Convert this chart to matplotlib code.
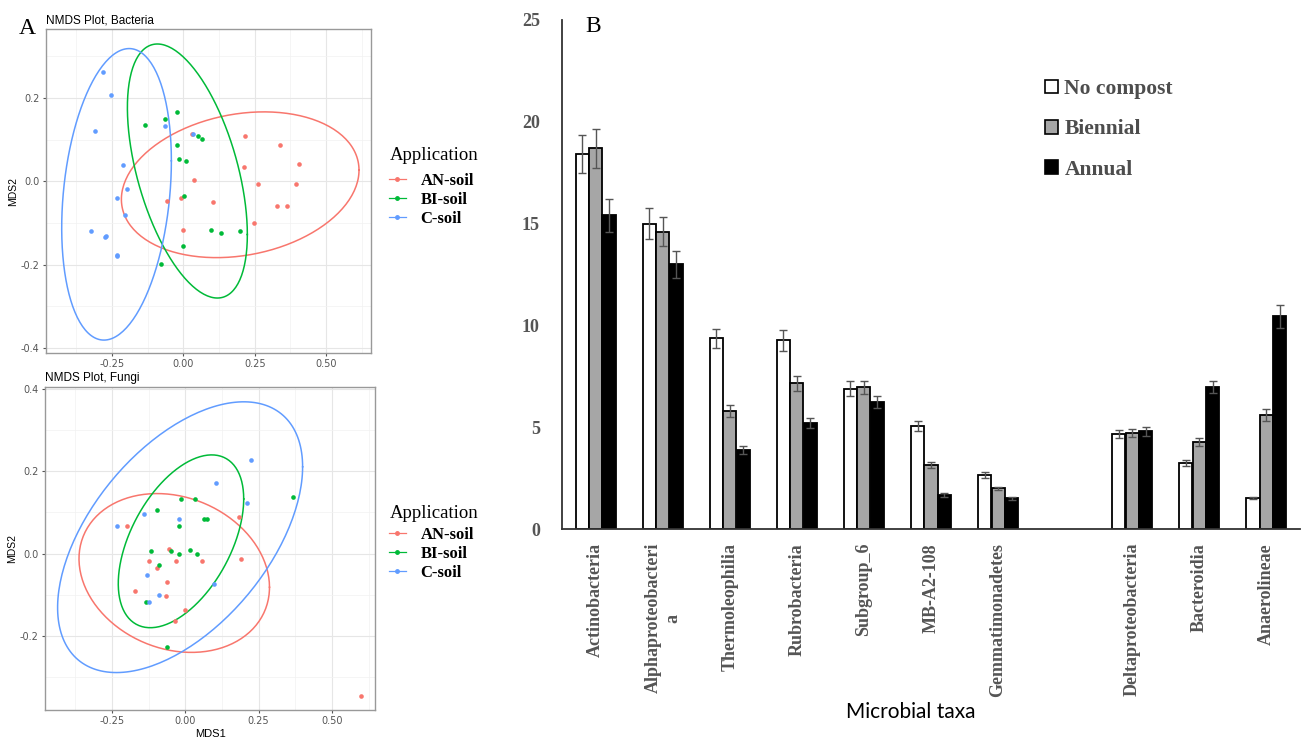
import numpy as np
import matplotlib
matplotlib.use("Agg")
import matplotlib.pyplot as plt
from matplotlib.lines import Line2D
from matplotlib.patches import Patch

# ---------------- panel A data (NMDS scores) ----------------
GROUPS = ["AN-soil", "BI-soil", "C-soil"]
GROUP_COLORS = ["#F8766D", "#00BA38", "#619CFF"]

bac_an_x = [0.031, 0.217, 0.339, 0.406, 0.213, 0.038, 0.262, 0.395, -0.056, -0.010, 0.105, 0.329, 0.364, 0.248, 0.000]
bac_an_y = [0.113, 0.109, 0.087, 0.043, 0.034, 0.003, -0.005, -0.007, -0.048, -0.041, -0.050, -0.060, -0.058, -0.101, -0.116]
bac_bi_x = [-0.133, -0.066, -0.024, -0.021, 0.052, 0.066, -0.014, 0.010, 0.003, 0.000, 0.098, 0.133, 0.200, -0.077]
bac_bi_y = [0.135, 0.149, 0.166, 0.087, 0.108, 0.101, 0.055, 0.048, -0.036, -0.154, -0.116, -0.123, -0.120, -0.198]
bac_c_x = [-0.283, -0.252, -0.308, -0.063, 0.035, -0.210, -0.196, -0.234, -0.203, -0.325, -0.276, -0.272, -0.234, -0.231]
bac_c_y = [0.263, 0.207, 0.120, 0.132, 0.115, 0.039, -0.017, -0.041, -0.080, -0.120, -0.133, -0.131, -0.176, -0.180]

fun_an_x = [-0.199, 0.182, -0.055, -0.123, -0.096, -0.031, 0.055, 0.190, -0.062, -0.171, -0.065, 0.000, -0.034, 0.599]
fun_an_y = [0.066, 0.090, 0.012, -0.019, -0.034, -0.019, -0.017, -0.014, -0.068, -0.092, -0.102, -0.138, -0.163, -0.347]
fun_bi_x = [0.366, -0.014, 0.034, -0.096, 0.062, 0.075, -0.021, -0.116, -0.048, -0.021, 0.017, 0.038, -0.089, -0.134, -0.062]
fun_bi_y = [0.138, 0.134, 0.134, 0.107, 0.083, 0.085, 0.066, 0.007, 0.007, -0.002, 0.010, -0.002, -0.027, -0.117, -0.226]
fun_c_x = [0.223, 0.106, 0.209, -0.140, -0.233, -0.021, -0.130, -0.089, -0.123, 0.096]
fun_c_y = [0.228, 0.172, 0.124, 0.097, 0.066, 0.083, -0.051, -0.100, -0.117, -0.073]

# ellipses: centre x, centre y, half-extent x, half-extent y, correlation
bac_ell = [(0.199, -0.008, 0.416, 0.175, 0.20),
           (0.014, 0.025, 0.210, 0.305, -0.50),
           (-0.234, -0.031, 0.192, 0.350, 0.23)]
fun_ell = [(-0.038, -0.047, 0.325, 0.193, -0.18),
           (-0.015, 0.030, 0.214, 0.210, 0.49),
           (-0.018, 0.040, 0.418, 0.329, 0.52)]

# ---------------- panel B data ----------------
taxa = ["Actinobacteria", "Alphaproteobacteri\na", "Thermoleophilia", "Rubrobacteria",
        "Subgroup_6", "MB-A2-108", "Gemmatimonadetes",
        "Deltaproteobacteria", "Bacteroidia", "Anaerolineae"]
no_compost = [18.4, 15.0, 9.36, 9.26, 6.90, 5.05, 2.65, 4.65, 3.23, 1.52]
no_compost_err = [0.93, 0.75, 0.45, 0.50, 0.35, 0.25, 0.13, 0.20, 0.15, 0.05]
biennial = [18.7, 14.6, 5.78, 7.15, 6.96, 3.14, 2.00, 4.70, 4.27, 5.59]
biennial_err = [0.95, 0.70, 0.30, 0.35, 0.33, 0.15, 0.08, 0.20, 0.20, 0.30]
annual = [15.4, 13.0, 3.87, 5.20, 6.22, 1.67, 1.50, 4.80, 6.96, 10.44]
annual_err = [0.80, 0.65, 0.20, 0.25, 0.30, 0.08, 0.07, 0.22, 0.30, 0.55]
treatments = ["No compost", "Biennial", "Annual"]
yticks_b = [0, 5, 10, 15, 20, 25]

SERIF = "Liberation Serif"
SANS = "Liberation Sans"
W, H = 1301, 738


def ellipse_xy(cx, cy, sx, sy, rho, n=200):
    cov = np.array([[sx * sx, rho * sx * sy], [rho * sx * sy, sy * sy]])
    L = np.linalg.cholesky(cov)
    t = np.linspace(0, 2 * np.pi, n)
    pts = L @ np.vstack([np.cos(t), np.sin(t)])
    return cx + pts[0], cy + pts[1]


def nmds_panel(ax, pts, ells, title, xlim, ylim, yticks, show_xlabel, title_y, leg_top):
    ax.set_facecolor("white")
    for (x, y), e, c in zip(pts, ells, GROUP_COLORS):
        ex, ey = ellipse_xy(*e)
        ax.plot(ex, ey, color=c, lw=1.1, zorder=3)
        ax.scatter(x, y, s=11, color=c, zorder=4, linewidths=0)
    ax.set_xlim(*xlim)
    ax.set_ylim(*ylim)
    ax.set_xticks([-0.25, 0.0, 0.25, 0.50])
    ax.set_xticklabels(["-0.25", "0.00", "0.25", "0.50"])
    ax.set_xticks([-0.375, -0.125, 0.125, 0.375, 0.625], minor=True)
    ax.set_yticks(yticks)
    ax.set_yticklabels([f"{v:.1f}" for v in yticks])
    ax.set_yticks([-0.3, -0.1, 0.1, 0.3], minor=True)
    ax.grid(True, which="major", color="#E6E6E6", lw=0.8, zorder=0)
    ax.grid(True, which="minor", color="#F2F2F2", lw=0.5, zorder=0)
    ax.set_axisbelow(True)
    ax.tick_params(which="major", length=2.5, color="#555555", labelsize=7,
                   labelcolor="#555555", pad=2)
    ax.tick_params(which="minor", length=0)
    for sp in ax.spines.values():
        sp.set_color("#999999")
        sp.set_linewidth(1.0)
    ax.set_ylabel("MDS2", fontsize=7.5, family=SANS, labelpad=2)
    if show_xlabel:
        ax.set_xlabel("MDS1", fontsize=8, family=SANS, labelpad=2)
    ax.set_title(title, loc="left", fontsize=8.5, family=SANS, pad=4)
    fig.text(390 / W, 1 - title_y / H, "Application", family=SERIF, fontsize=13.5,
             ha="left", va="center")
    handles = [Line2D([0], [0], color=c, lw=0.9, marker="o", markersize=2.5)
               for c in GROUP_COLORS]
    fig.legend(handles, GROUPS, loc="upper left",
               bbox_to_anchor=(389 / W, 1 - leg_top / H), frameon=False,
               handlelength=1.0, handletextpad=0.9, labelspacing=0.18,
               borderpad=0, borderaxespad=0,
               prop={"family": SERIF, "weight": "bold", "size": 12})


fig = plt.figure(figsize=(13.01, 7.38), dpi=100)

ax_a1 = fig.add_axes([46 / W, 1 - 353 / H, 325 / W, 324 / H])
nmds_panel(ax_a1, [(bac_an_x, bac_an_y), (bac_bi_x, bac_bi_y), (bac_c_x, bac_c_y)],
           bac_ell, "NMDS Plot, Bacteria", (-0.481, 0.657), (-0.412, 0.366),
           [-0.4, -0.2, 0.0, 0.2], False, 156, 173)

ax_a2 = fig.add_axes([45 / W, 1 - 710 / H, 330 / W, 323 / H])
nmds_panel(ax_a2, [(fun_an_x, fun_an_y), (fun_bi_x, fun_bi_y), (fun_c_x, fun_c_y)],
           fun_ell, "NMDS Plot, Fungi", (-0.479, 0.647), (-0.38, 0.405),
           [-0.2, 0.0, 0.2, 0.4], True, 513, 527)

fig.text(27 / W, 1 - 28 / H, "A", family=SERIF, fontsize=17, ha="center", va="center")

# ---------------- panel B ----------------
ax_b = fig.add_axes([562 / W, 1 - 529 / H, 738 / W, 509 / H])
pos = np.arange(len(taxa)) + (np.arange(len(taxa)) >= 7)
bw = 0.195
err_kw = dict(ecolor="#555555", elinewidth=1.0, capsize=3, capthick=1.0)
series = [(no_compost, no_compost_err, "white"),
          (biennial, biennial_err, "#A6A6A6"),
          (annual, annual_err, "black")]
for k, ((vals, errs, fc), lab) in enumerate(zip(series, treatments)):
    ax_b.bar(pos + (k - 1) * 0.2, vals, bw, yerr=errs, color=fc,
             edgecolor="black", linewidth=1.3, error_kw=err_kw, label=lab, zorder=2)

ax_b.set_xlim(-0.5, 10.5)
ax_b.set_ylim(0, 25)
ax_b.set_yticks(yticks_b)
ax_b.set_yticklabels([str(v) for v in yticks_b], family=SERIF, fontweight="bold",
                     fontsize=13, color="#555555")
ax_b.set_xticks(pos)
ax_b.set_xticklabels(taxa, rotation=90, family=SERIF, fontweight="bold",
                     fontsize=13, color="#555555", ha="center", va="top",
                     multialignment="center")
ax_b.tick_params(axis="both", length=0)
ax_b.tick_params(axis="y", pad=16)
ax_b.tick_params(axis="x", pad=10)
for s in ["top", "right"]:
    ax_b.spines[s].set_visible(False)
for s in ["left", "bottom"]:
    ax_b.spines[s].set_color("#333333")
    ax_b.spines[s].set_linewidth(1.3)

leg_handles = [Patch(facecolor=fc, edgecolor="black", linewidth=1.2)
               for _, _, fc in series]
fig.legend(leg_handles, treatments, loc="upper left",
           bbox_to_anchor=(1045 / W, 1 - 79 / H), borderpad=0, borderaxespad=0,
           frameon=False, handlelength=0.6, handleheight=0.6, handletextpad=0.3,
           labelspacing=0.95, labelcolor="#4D4D4D",
           prop={"family": SERIF, "weight": "bold", "size": 15.5})

fig.text(593 / W, 1 - 26 / H, "B", family=SERIF, fontsize=17, ha="center", va="center")
fig.text(911 / W, 1 - 712 / H, "Microbial taxa", family="Lato", fontsize=15,
         ha="center", va="center")

fig.savefig("out.png", dpi=100, facecolor="white")
